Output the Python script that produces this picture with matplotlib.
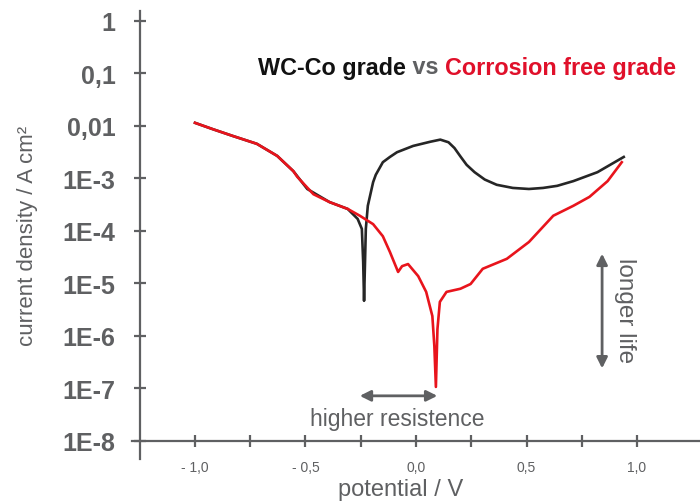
import numpy as np
import matplotlib
matplotlib.use('Agg')
import matplotlib.pyplot as plt

plt.rcParams['font.family'] = ['Liberation Sans Narrow', 'Liberation Sans', 'DejaVu Sans']

GRAY = '#5f6062'
RED = '#e8141c'
BLACK = '#262626'

# WC-Co grade: potential (V) and log10 current density (A/cm2)
wc_v = [-1.0, -0.920, -0.829, -0.720, -0.628, -0.555, -0.492, -0.391, -0.309, -0.264,
        -0.245, -0.239, -0.235, -0.227, -0.218, -0.194, -0.182, -0.150, -0.118, -0.086,
        -0.013, 0.065, 0.110, 0.147, 0.174, 0.201, 0.229, 0.265, 0.311, 0.365, 0.438,
        0.511, 0.575, 0.639, 0.712, 0.821, 0.940]
wc_log = [-1.94, -2.06, -2.19, -2.34, -2.57, -2.86, -3.20, -3.45, -3.58, -3.77,
          -3.96, -4.59, -5.33, -3.96, -3.52, -3.07, -2.93, -2.69, -2.59, -2.50,
          -2.38, -2.30, -2.26, -2.31, -2.42, -2.58, -2.74, -2.88, -3.02, -3.12, -3.18,
          -3.20, -3.18, -3.14, -3.05, -2.88, -2.59]

# Corrosion free grade
cf_v = [-1.0, -0.920, -0.829, -0.720, -0.628, -0.555, -0.537, -0.464, -0.391, -0.309,
        -0.254, -0.194, -0.150, -0.118, -0.081, -0.063, -0.036, 0.010, 0.046, 0.074,
        0.083, 0.090, 0.097, 0.108, 0.138, 0.201, 0.247, 0.302, 0.411, 0.511, 0.621,
        0.712, 0.785, 0.867, 0.931]
cf_log = [-1.94, -2.06, -2.19, -2.34, -2.57, -2.86, -2.97, -3.30, -3.45, -3.58,
          -3.71, -3.87, -4.10, -4.40, -4.78, -4.67, -4.63, -4.86, -5.16, -5.62,
          -6.19, -6.97, -5.87, -5.35, -5.16, -5.10, -5.01, -4.72, -4.53, -4.21, -3.71,
          -3.52, -3.35, -3.05, -2.69]

y_ticks = [1, 0.1, 0.01, 1e-3, 1e-4, 1e-5, 1e-6, 1e-7, 1e-8]
y_labels = ['1', '0,1', '0,01', '1E-3', '1E-4', '1E-5', '1E-6', '1E-7', '1E-8']
x_ticks = [-1.0, -0.75, -0.5, -0.25, 0.0, 0.25, 0.5, 0.75, 1.0]
x_labels = ['- 1,0', '', '- 0,5', '', '0,0', '', '0,5', '', '1,0']

fig = plt.figure(figsize=(7, 5.02), dpi=100)
ax = fig.add_axes([132 / 700, 42 / 502, 568 / 700, 448 / 502])

ax.plot(wc_v, 10 ** np.array(wc_log), color=BLACK, lw=1.9)
ax.plot(cf_v, 10 ** np.array(cf_log), color=RED, lw=1.9)

ax.set_yscale('log')
ax.set_xlim(-1.285, 1.285)
ax.set_ylim(10 ** -8.343, 10 ** 0.19)

for s in ['top', 'right']:
    ax.spines[s].set_visible(False)
ax.spines['left'].set_position(('data', -1.25))
ax.spines['bottom'].set_position(('data', 1e-8))
for s in ['left', 'bottom']:
    ax.spines[s].set_color(GRAY)
    ax.spines[s].set_linewidth(1.6)

ax.set_yticks(y_ticks)
ax.set_yticklabels(y_labels)
ax.yaxis.set_minor_locator(matplotlib.ticker.NullLocator())
ax.set_xticks(x_ticks)
ax.set_xticklabels(x_labels)
ax.tick_params(axis='y', direction='inout', length=9, width=1.6, color=GRAY,
               labelcolor=GRAY, labelsize=18, pad=13)
ax.tick_params(axis='x', direction='inout', length=9, width=1.6, color=GRAY,
               labelcolor=GRAY, labelsize=10, pad=9)
for lab in ax.get_yticklabels():
    lab.set_fontweight('bold')

# arrows and notes
ax.annotate('', xy=(-0.267, 10 ** -7.14), xytext=(0.109, 10 ** -7.14),
            arrowprops=dict(arrowstyle='<|-|>', color=GRAY, lw=2, mutation_scale=16))
ax.text(-0.086, 10 ** -7.58, 'higher resistence', color=GRAY, fontsize=16.5,
        ha='center', va='center')
ax.annotate('', xy=(0.842, 10 ** -4.38), xytext=(0.842, 10 ** -6.67),
            arrowprops=dict(arrowstyle='<|-|>', color=GRAY, lw=2, mutation_scale=16))
ax.text(0.946, 10 ** -5.49, 'longer life', color=GRAY, fontsize=17.5,
        ha='center', va='center', rotation=-90)

t1 = fig.text(258 / 700, 1 - 68 / 502, 'WC-Co grade', color='#111111',
              fontsize=16.8, fontweight='bold', va='center')
t2 = ax.annotate(' vs ', xy=(1, 0), xycoords=t1, va='bottom', color=GRAY,
                 fontsize=16.8, fontweight='bold')
ax.annotate('Corrosion free grade', xy=(1, 0), xycoords=t2, va='bottom',
            color='#e0102a', fontsize=16.8, fontweight='bold')

fig.text(28 / 700, 1 - 236 / 502, 'current density / A cm²', color=GRAY,
         fontsize=16, rotation=90, ha='center', va='center')
fig.text(401 / 700, 1 - 490 / 502, 'potential / V', color=GRAY,
         fontsize=17, ha='center', va='center')

fig.savefig('out.png', dpi=100)
